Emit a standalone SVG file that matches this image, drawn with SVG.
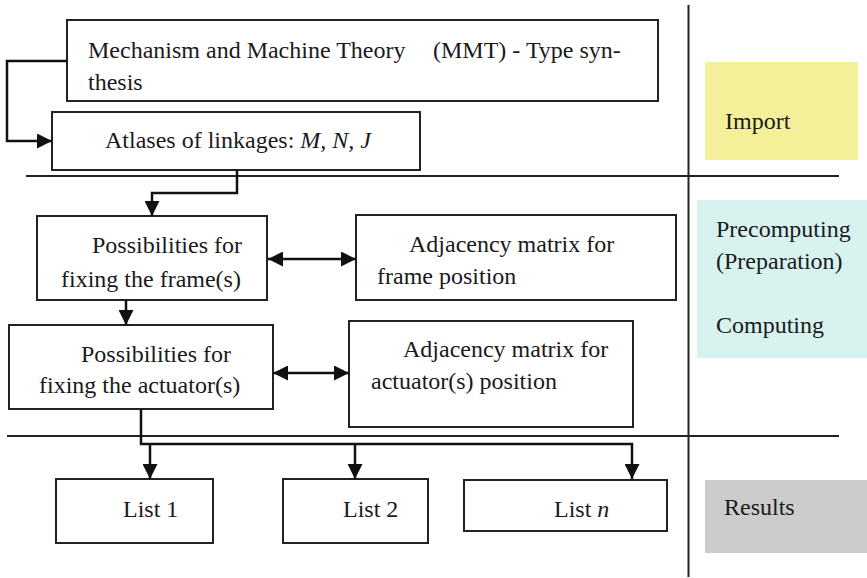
<svg xmlns="http://www.w3.org/2000/svg" width="867" height="578" viewBox="0 0 867 578">
<defs>
<marker id="ah" viewBox="0 0 10 10" refX="10" refY="5" markerWidth="16" markerHeight="15" markerUnits="userSpaceOnUse" orient="auto-start-reverse">
<path d="M0,0 L10,5 L0,10 z" fill="#111"/>
</marker>
<style>
.box{fill:#fff;stroke:#222;stroke-width:2}
.t{font-family:"Liberation Serif","Times New Roman",serif;font-size:24px;fill:#1a1a1a}
.i{font-style:italic}
.con{fill:none;stroke:#111;stroke-width:2.5;stroke-linejoin:miter}
.div{stroke:#222;stroke-width:2;fill:none}
</style>
</defs>
<rect width="867" height="578" fill="#fff"/>

<g id="dividers">
<line class="div" x1="26" y1="176" x2="839" y2="176"/>
<line class="div" x1="7" y1="436" x2="839" y2="436"/>
<line class="div" x1="688.5" y1="5" x2="688.5" y2="577"/>
</g>

<g id="phase-import">
<rect x="705" y="62" width="153" height="98" fill="#f4f09a"/>
<text class="t" x="725" y="129">Import</text>
</g>
<g id="phase-compute">
<rect x="697" y="200" width="170" height="158" fill="#d8f2f0"/>
<text class="t" x="716" y="237">Precomputing</text>
<text class="t" x="716" y="269">(Preparation)</text>
<text class="t" x="716" y="333">Computing</text>
</g>
<g id="phase-results">
<rect x="705" y="480" width="162" height="73" fill="#cccccc"/>
<text class="t" x="724" y="515">Results</text>
</g>

<g id="mmt">
<rect class="box" x="67" y="20" width="591" height="81"/>
<text class="t" x="88" y="58">Mechanism and Machine Theory</text>
<text class="t" x="433" y="58">(MMT) - Type syn-</text>
<text class="t" x="88" y="90">thesis</text>
</g>
<g id="atlases">
<rect class="box" x="52" y="112" width="368" height="58"/>
<text class="t" x="105" y="148">Atlases of linkages: <tspan class="i">M, N, J</tspan></text>
</g>
<g id="frame">
<rect class="box" x="37" y="216" width="230" height="84"/>
<text class="t" x="92" y="253">Possibilities for</text>
<text class="t" x="61" y="287">fixing the frame(s)</text>
</g>
<g id="adj-frame">
<rect class="box" x="356" y="215" width="320" height="85"/>
<text class="t" x="409" y="252">Adjacency matrix for</text>
<text class="t" x="377" y="284">frame position</text>
</g>
<g id="actuator">
<rect class="box" x="9" y="325" width="264" height="84"/>
<text class="t" x="81" y="362">Possibilities for</text>
<text class="t" x="39" y="393">fixing the actuator(s)</text>
</g>
<g id="adj-actuator">
<rect class="box" x="349" y="321" width="284" height="106"/>
<text class="t" x="403" y="357">Adjacency matrix for</text>
<text class="t" x="371" y="389">actuator(s) position</text>
</g>
<g id="list1">
<rect class="box" x="56" y="479" width="157" height="64"/>
<text class="t" x="123" y="517">List 1</text>
</g>
<g id="list2">
<rect class="box" x="283" y="479" width="145" height="64"/>
<text class="t" x="343" y="517">List 2</text>
</g>
<g id="listn">
<rect class="box" x="464" y="480" width="203" height="51"/>
<text class="t" x="554" y="517">List <tspan class="i">n</tspan></text>
</g>

<g id="connectors">
<path class="con" d="M67,61 H7 V141 H52" marker-end="url(#ah)"/>
<path class="con" d="M237,170 V193 H152 V216" marker-end="url(#ah)"/>
<path class="con" d="M268,259 H356" marker-start="url(#ah)" marker-end="url(#ah)"/>
<path class="con" d="M126,300 V325" marker-end="url(#ah)"/>
<path class="con" d="M273,373 H349" marker-start="url(#ah)" marker-end="url(#ah)"/>
<path class="con" d="M141,409 V444 H632 V479" marker-end="url(#ah)"/>
<path class="con" d="M150,444 V479" marker-end="url(#ah)"/>
<path class="con" d="M355,444 V479" marker-end="url(#ah)"/>
</g>
</svg>
